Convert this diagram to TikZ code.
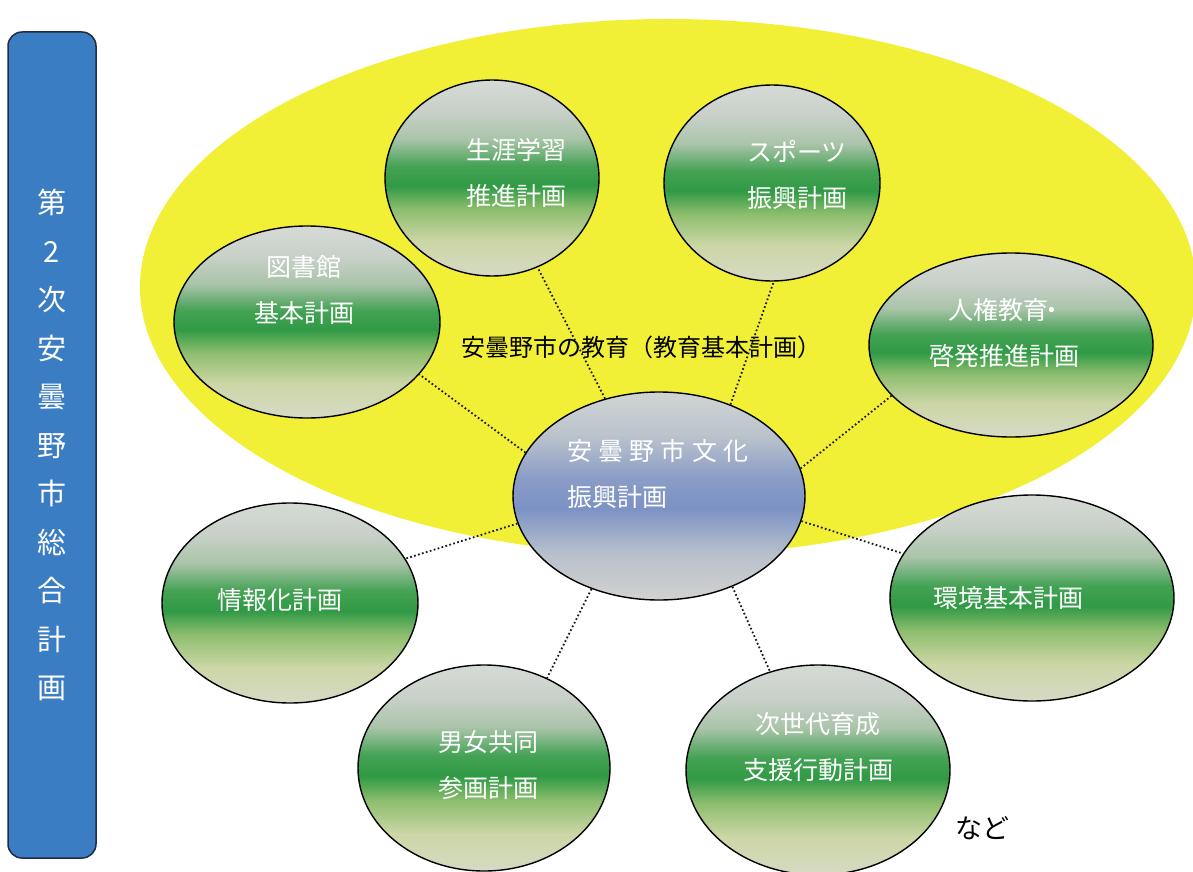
\documentclass[tikz,border=0pt]{standalone}
\usepackage{fontspec}
\newfontfamily\jp{Noto Sans CJK JP}
\usetikzlibrary{shapes.geometric}
\definecolor{yel}{HTML}{F2F036}
\definecolor{boxblue}{HTML}{3B7DC2}
\definecolor{boxline}{HTML}{1E2C44}
\definecolor{gbA}{HTML}{D6DAC4}
\definecolor{gbB}{HTML}{CCD6A6}
\definecolor{gbC}{HTML}{8EBE6E}
\definecolor{gbD}{HTML}{309A46}
\definecolor{gbE}{HTML}{44A254}
\definecolor{gbF}{HTML}{AAC4AA}
\definecolor{gbG}{HTML}{C8D0C8}
\definecolor{gbH}{HTML}{D6DAD6}
\definecolor{bbA}{HTML}{D2D2D0}
\definecolor{bbB}{HTML}{B8C0CC}
\definecolor{bbC}{HTML}{7C92C4}
\definecolor{bbD}{HTML}{8A9CC6}
\definecolor{bbE}{HTML}{BCC4CC}
\definecolor{bbF}{HTML}{D0D4D4}
\pgfdeclareverticalshading{greenball}{100bp}{color(0bp)=(gbA); color(25bp)=(gbA); color(34bp)=(gbB); color(42bp)=(gbC); color(48bp)=(gbD); color(53bp)=(gbE); color(60bp)=(gbF); color(67bp)=(gbG); color(75bp)=(gbH); color(100bp)=(gbH)}
\pgfdeclareverticalshading{blueball}{100bp}{color(0bp)=(bbA); color(25bp)=(bbA); color(36bp)=(bbB); color(47bp)=(bbC); color(54bp)=(bbD); color(65bp)=(bbE); color(75bp)=(bbF); color(100bp)=(bbF)}
\tikzset{
  plan/.style={ellipse, draw=black, line width=1.4pt, inner sep=0pt, shading=greenball},
  core/.style={ellipse, draw=black, line width=1.4pt, inner sep=0pt, shading=blueball},
  lbl/.style={text=white, align=center, inner sep=0pt, font=\jp\fontsize{25}{46}\selectfont},
  conn/.style={line width=1.8pt, dash pattern=on 1.7pt off 2.4pt, color=black!90}
}
\begin{document}
\begin{tikzpicture}[x=1pt,y=-1pt]
\useasboundingbox (0,0) rectangle (1193,872);
\fill[white] (0,0) rectangle (1193,872);
% left box
\node[draw=boxline, fill=boxblue, line width=1.5pt, rounded corners=14pt,
      minimum width=88pt, minimum height=826pt, inner sep=0pt,
      text=white, align=center, font=\jp\fontsize{29}{48.5}\selectfont] (plan)
  at (52,445) {第\\2\\次\\安\\曇\\野\\市\\総\\合\\計\\画};
% yellow region
\node[ellipse, fill=yel, minimum width=1056pt, minimum height=536pt, inner sep=0pt] (edu) at (668,287) {};
\node[inner sep=0pt, font=\jp\fontsize{24}{28}\selectfont] (eduT) at (641,347) {安曇野市の教育（教育基本計画）};
% ellipses
\node[plan, minimum width=266pt, minimum height=192pt] (lib) at (307,322) {};
\node[plan, minimum width=214pt, minimum height=196pt] (life) at (492,178) {};
\node[plan, minimum width=216pt, minimum height=196pt] (sport) at (772,183) {};
\node[plan, minimum width=284pt, minimum height=184pt] (rights) at (1011,345) {};
\node[core, minimum width=292pt, minimum height=208pt] (cul) at (659,496) {};
\node[plan, minimum width=256pt, minimum height=200pt] (info) at (290,603) {};
\node[plan, minimum width=284pt, minimum height=206pt] (env) at (1032,598) {};
\node[plan, minimum width=252pt, minimum height=206pt] (gender) at (484,768) {};
\node[plan, minimum width=264pt, minimum height=210pt] (next) at (818,770) {};
% labels
\node[lbl] (libT) at (304,290) {図書館\\基本計画};
\node[lbl] (lifeT) at (516,173) {生涯学習\\推進計画};
\node[lbl] (sportT) at (797,175) {スポーツ\\振興計画};
\node[lbl] (rightsT) at (1004,333) {人権教育\kern-9pt・\kern-5pt\\啓発推進計画};
\node[lbl, align=left, anchor=west] (culT) at (567,474) {\makebox[181pt][s]{安\hfill 曇\hfill 野\hfill 市\hfill 文\hfill 化}\\振興計画};
\node[lbl] (infoT) at (280,600) {情報化計画};
\node[lbl] (envT) at (1008,598) {環境基本計画};
\node[lbl] (genderT) at (488,765) {男女共同\\参画計画};
\node[lbl] (nextT) at (818,747) {次世代育成\\支援行動計画};
\node[inner sep=0pt, font=\jp\fontsize{27}{30}\selectfont] (nado) at (982,828) {など};
% connectors
\draw[conn] (cul.162) -- (lib.-25);
\draw[conn] (cul.119) -- (life.-63);
\draw[conn] (cul.52) -- (sport.-89);
\draw[conn] (cul.11) -- (rights.203);
\draw[conn] (cul.-10) -- (env.161);
\draw[conn] (cul.-169) -- (info.21);
\draw[conn] (cul.-126) -- (gender.55);
\draw[conn] (cul.-51) -- (next.116);
\end{tikzpicture}
\end{document}
